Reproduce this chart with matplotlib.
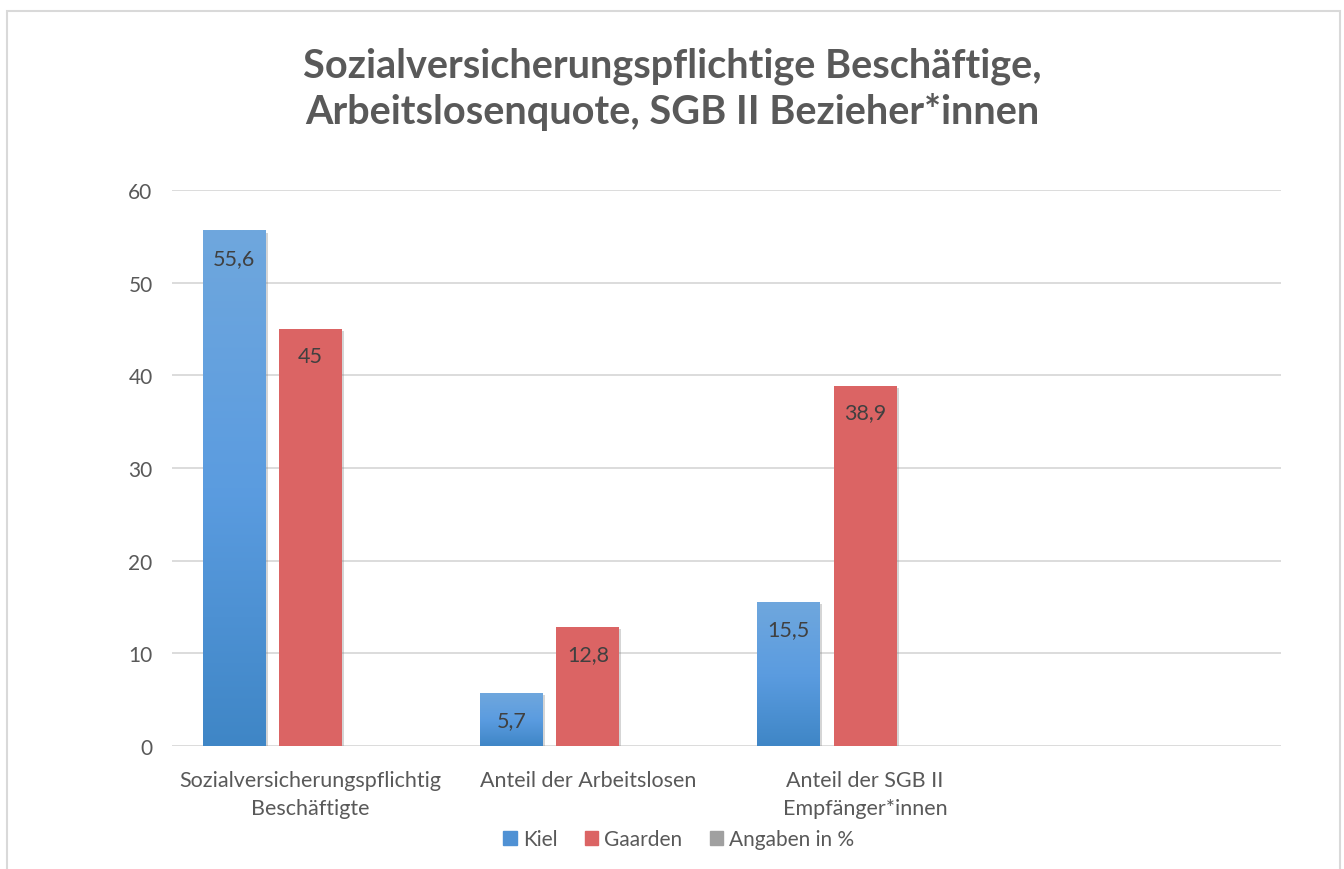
import numpy as np
import matplotlib
matplotlib.use('Agg')
import matplotlib.pyplot as plt
from matplotlib.colors import LinearSegmentedColormap
from matplotlib.patches import Rectangle
import matplotlib.patheffects as pe

plt.rcParams['font.family'] = ['Lato', 'DejaVu Sans']

categories = ['Sozialversicherungspflichtig\nBeschäftigte', 'Anteil der Arbeitslosen',
              'Anteil der SGB II\nEmpfänger*innen', '']
series_names = ['Kiel', 'Gaarden', 'Angaben in %']
kiel = [55.6, 5.7, 15.5, None]
gaarden = [45, 12.8, 38.9, None]
angaben = [None, None, None, None]
yticks = [0, 10, 20, 30, 40, 50, 60]

title = 'Sozialversicherungspflichtige Beschäftige,\nArbeitslosenquote, SGB II Bezieher*innen'

txt = '#595959'
lbl = '#404040'
blue_cmap = LinearSegmentedColormap.from_list('kiel', ['#3f86c6', '#5b9ce0', '#6fa7dd'])
grey_cmap = LinearSegmentedColormap.from_list('ang', ['#8c8c8c', '#a5a5a5', '#b8b8b8'])
red = '#db6464'

fig = plt.figure(figsize=(13.44, 8.70), dpi=100)
fig.patches.append(Rectangle((7 / 1344, -0.01), 1333 / 1344, 1 - 12 / 870 + 0.01,
                             transform=fig.transFigure, fill=False,
                             edgecolor='#d9d9d9', linewidth=1.5))

ax = fig.add_axes([172 / 1344, (870 - 747) / 870, (1281 - 172) / 1344, (747 - 191) / 870])
x = np.arange(len(categories))
width = 0.227
offsets = [-0.275, 0.0, 0.275]

shadow = [pe.SimplePatchShadow(offset=(1.5, -1.5), shadow_rgbFace='#888888', alpha=0.35), pe.Normal()]
grad = np.linspace(0, 1, 256).reshape(-1, 1)

for vals, off, name in zip([kiel, gaarden, angaben], offsets, series_names):
    for xi, v in zip(x, vals):
        if v is None:
            continue
        if name == 'Gaarden':
            b = ax.bar(xi + off, v, width, color=red, zorder=3)
            b[0].set_path_effects(shadow)
        else:
            b = ax.bar(xi + off, v, width, color='none', zorder=3)
            b[0].set_path_effects(shadow)
            ax.imshow(grad, cmap=blue_cmap if name == 'Kiel' else grey_cmap, origin='lower',
                      extent=(xi + off - width / 2, xi + off + width / 2, 0, v),
                      aspect='auto', zorder=3.5)
        ax.annotate(f'{v:g}'.replace('.', ','), (xi + off, v), xytext=(0, -27),
                    textcoords='offset pixels', ha='center', va='center',
                    fontsize=15.5, color=lbl, zorder=5)

ax.set_xlim(-0.5, len(categories) - 0.5)
ax.set_ylim(0, 60)
ax.set_yticks(yticks)
ax.set_yticklabels([str(t) for t in yticks], fontsize=15, color=txt)
ax.set_xticks(x)
ax.set_xticklabels(categories, fontsize=15.5, color=txt, linespacing=1.5)
ax.tick_params(length=0, pad=14)
ax.tick_params(axis='x', pad=17)
ax.grid(axis='y', color='#d9d9d9', linewidth=1.3, zorder=0)
ax.set_axisbelow(True)
for s in ax.spines.values():
    s.set_visible(False)

fig.text(0.5, 0.897, title, ha='center', va='center', fontsize=28.5, fontweight='bold',
         color=txt, linespacing=1.25)

# legend handles
handles = [Rectangle((0, 0), 1, 1, color=c) for c in ['#4f91d4', red, '#a0a0a0']]
fig.legend(handles, series_names, loc='center', bbox_to_anchor=(0.505, 0.034), ncol=3,
           frameon=False, fontsize=15, labelcolor=txt, handlelength=0.65, handleheight=0.65,
           handletextpad=0.3, columnspacing=1.3)

fig.savefig('out.png', dpi=100, facecolor='white')
